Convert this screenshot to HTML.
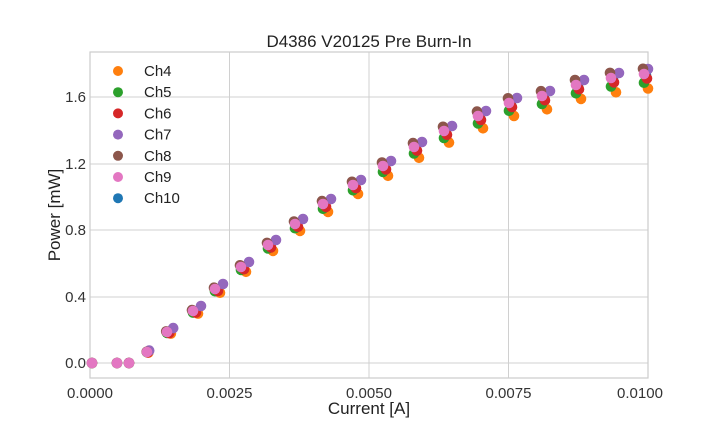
<!DOCTYPE html><html><head><style>body{margin:0;background:#fff}svg{font-family:"Liberation Sans",sans-serif}</style></head><body>
<svg id="s" width="720" height="432" xmlns="http://www.w3.org/2000/svg">
<rect width="720" height="432" fill="#fff"/>
<g stroke="#d0d0d0" stroke-width="1">
<line x1="229.5" y1="52" x2="229.5" y2="378"/><line x1="369" y1="52" x2="369" y2="378"/><line x1="508.5" y1="52" x2="508.5" y2="378"/>
<line x1="90" y1="363" x2="648" y2="363"/><line x1="90" y1="297" x2="648" y2="297"/><line x1="90" y1="230" x2="648" y2="230"/><line x1="90" y1="164" x2="648" y2="164"/><line x1="90" y1="97" x2="648" y2="97"/>
</g>
<rect x="90" y="52" width="558" height="326" fill="none" stroke="#ccc" stroke-width="1.2"/>
<g id="pts"></g>
<text x="369" y="47" font-size="17" text-anchor="middle" fill="#222">D4386 V20125 Pre Burn-In</text>
<g font-size="15" fill="#333" text-anchor="middle">
<text x="90" y="398">0.0000</text><text x="229.5" y="398">0.0025</text><text x="369" y="398">0.0050</text><text x="508.5" y="398">0.0075</text><text x="640" y="398">0.0100</text>
</g>
<g font-size="15" fill="#333" text-anchor="end">
<text x="86" y="368">0.0</text><text x="86" y="302">0.4</text><text x="86" y="235">0.8</text><text x="86" y="169">1.2</text><text x="86" y="102">1.6</text>
</g>
<text x="369" y="414" font-size="17" text-anchor="middle" fill="#222">Current [A]</text>
<text x="60" y="215" font-size="17" text-anchor="middle" fill="#222" transform="rotate(-90 60 215)">Power [mW]</text>
<g id="leg" font-size="15" fill="#222"></g>
</svg>
<script>
var base=[[92,363],[117,363],[129,363],[147,352],[167,332],[193,311],[215,289],[241,267],[268,245],[295,224],[323,204],[353,185],[383,166],[414,147],[444,131],[478,116],[509,103],[542,96],[576,85],[611,78],[644,74]];
var ch=[["Ch4","#ff7f0e",5,0.05,0],["Ch5","#2ca02c",0,0.03,0],["Ch6","#d62728",3,0.012,1],["Ch7","#9467bd",8,0,-5],["Ch8","#8c564b",-1,-0.018,0],["Ch9","#e377c2",0,0,0],["Ch10","#1f77b4",2,0.005,0]];
var order=[6,0,1,2,3,4,5],g=document.getElementById("pts"),h="";
order.forEach(function(c){var C=ch[c];base.forEach(function(p,i){var hgt=363-p[1];var f=hgt>0?1:0;var x=p[0]+C[2]*f*Math.min(1,hgt/40),y=p[1]+C[3]*hgt+C[4]*Math.min(1,hgt/40);if(x>648)x=648;h+='<circle cx="'+x.toFixed(1)+'" cy="'+y.toFixed(1)+'" r="5.3" fill="'+C[1]+'"/>';});});
g.innerHTML=h;
var l="";ch.forEach(function(C,i){var y=71+i*21.2;l+='<circle cx="118" cy="'+y+'" r="5" fill="'+C[1]+'"/><text x="144" y="'+(y+5)+'">'+C[0]+'</text>';});
document.getElementById("leg").innerHTML=l;
</script>
</body></html>
